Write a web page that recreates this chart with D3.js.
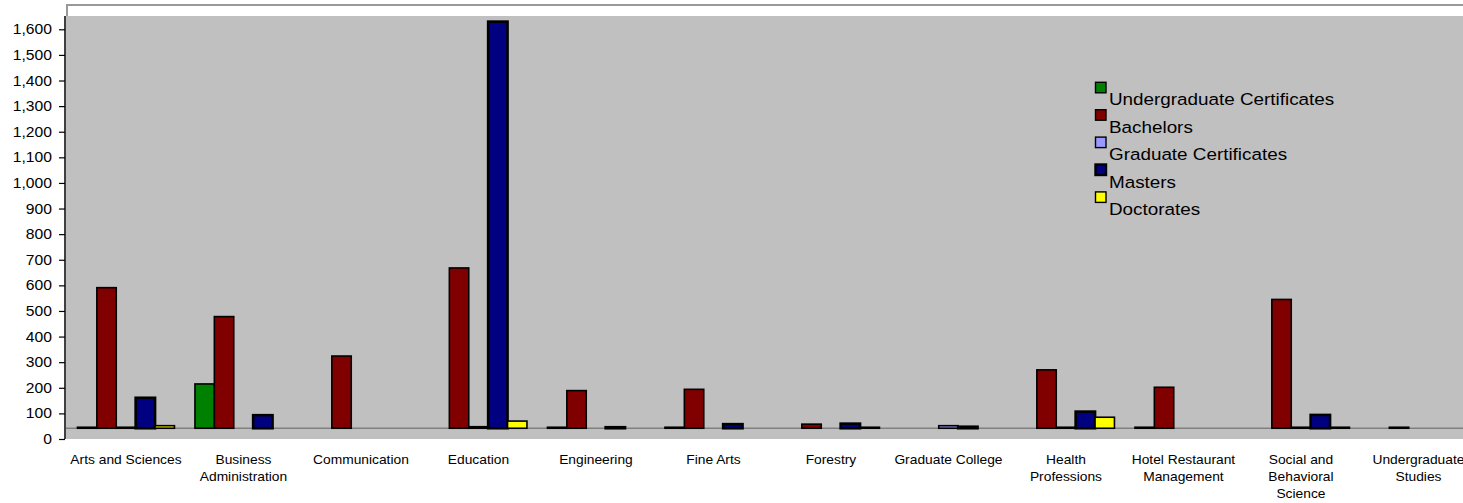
<!DOCTYPE html>
<html><head><meta charset="utf-8">
<script src="https://cdn.jsdelivr.net/npm/d3@7"></script>
<style>html,body{margin:0;padding:0;background:#fff}svg{display:block}text{font-family:"Liberation Sans",Arial,sans-serif;fill:#000}</style>
</head><body><svg id="c" width="1463" height="503"></svg>
<script>
const categories = ["Arts and Sciences","Business\nAdministration","Communication","Education","Engineering","Fine Arts","Forestry","Graduate College","Health\nProfessions","Hotel Restaurant\nManagement","Social and\nBehavioral\nScience","Undergraduate\nStudies"];
const seriesNames = ["Undergraduate Certificates","Bachelors","Graduate Certificates","Masters","Doctorates"];
const seriesColors = ["#008000","#800000","#9999ff","#000080","#ffff00"];
const undergradCerts = [42, 215, null, null, 42, 42, null, null, null, 42, null, null];
const bachelors      = [591, 478, 324, 668, 189, 194, 58, null, 270, 202, 545, 42];
const gradCerts      = [43, null, null, 48, null, null, null, 52, 42, null, 43, null];
const masters        = [161, 93, null, 1630, 46, 58, 60, 48, 107, null, 94, null];
const doctorates     = [52, null, null, 70, null, null, 42, null, 85, null, 42, null];
const yTicks = d3.range(0, 1601, 100);
const baseValue = 42;

const seriesData = [undergradCerts, bachelors, gradCerts, masters, doctorates];
const svg = d3.select("#c");
const W = 1463;
const plotL = 66, plotT = 16, plotB = 439;

// outer chart border (top and short left edge above plot)
svg.append("path").attr("d",`M67,${plotT}V5H${W}`).attr("fill","none").attr("stroke","#999").attr("stroke-width",2);
// plot area
svg.append("rect").attr("x",plotL).attr("y",plotT).attr("width",W-plotL).attr("height",plotB-plotT).attr("fill","#c0c0c0");

const y = d3.scaleLinear().domain([0,1600]).range([439, 29.3]);
const x0 = d3.scaleBand().domain(categories).range([67.2, 67.2 + 12*117.5]);
const x1 = d3.scaleBand().domain(seriesNames).range([10.25, 10.25 + 5*19.4]);

// baseline
svg.append("line").attr("x1",plotL).attr("x2",W).attr("y1",y(baseValue)).attr("y2",y(baseValue))
  .attr("stroke","#808080").attr("stroke-width",1.5);

// bars
seriesNames.forEach((s,k)=>{
  const g = svg.append("g");
  categories.forEach((c,i)=>{
    const v = seriesData[k][i];
    if (v == null) return;
    let top = Math.min(y(v), y(baseValue)), bot = Math.max(y(v), y(baseValue));
    if (bot - top < 1) { top = bot - 1; }
    g.append("rect")
      .attr("x", x0(c) + x1(s)).attr("width", x1.bandwidth())
      .attr("y", top).attr("height", bot - top)
      .attr("fill", seriesColors[k])
      .attr("stroke", "#000").attr("stroke-width", k===3 ? 2.6 : 1.6);
  });
});

// y axis
const yAxis = d3.axisLeft(y).tickValues(yTicks).tickSize(6).tickFormat(d3.format(","));
const ga = svg.append("g").attr("transform",`translate(65,0)`).call(yAxis);
ga.select(".domain").attr("stroke","#000").attr("stroke-width",1.5).attr("d",`M0,${plotT}V${plotB}`);
ga.selectAll(".tick line").attr("stroke","#000").attr("stroke-width",1.2);
ga.selectAll(".tick text").remove();
yTicks.forEach(t=>{
  svg.append("text").attr("transform",`translate(52,${y(t)+5}) scale(1.12,1)`)
    .attr("text-anchor","end").style("font-size","14px").text(d3.format(",")(t));
});

// x labels
categories.forEach(c=>{
  const cx = x0(c) + x0.bandwidth()/2;
  c.split("\n").forEach((ln,j)=>{
    svg.append("text").attr("transform",`translate(${cx},${464 + j*16.8}) scale(1.03,1)`)
      .attr("text-anchor","middle").style("font-size","13.4px").text(ln);
  });
});

// legend
seriesNames.forEach((s,k)=>{
  const base = 105.3 + k*27.4;
  svg.append("rect").attr("x",1095.5).attr("y",base-23).attr("width",10.5).attr("height",10.5)
    .attr("fill",seriesColors[k]).attr("stroke","#000").attr("stroke-width",k===3?2.4:1.4);
  svg.append("text").attr("transform",`translate(1109,${base}) scale(1.11,1)`)
    .style("font-size","17px").text(s);
});
</script></body></html>
